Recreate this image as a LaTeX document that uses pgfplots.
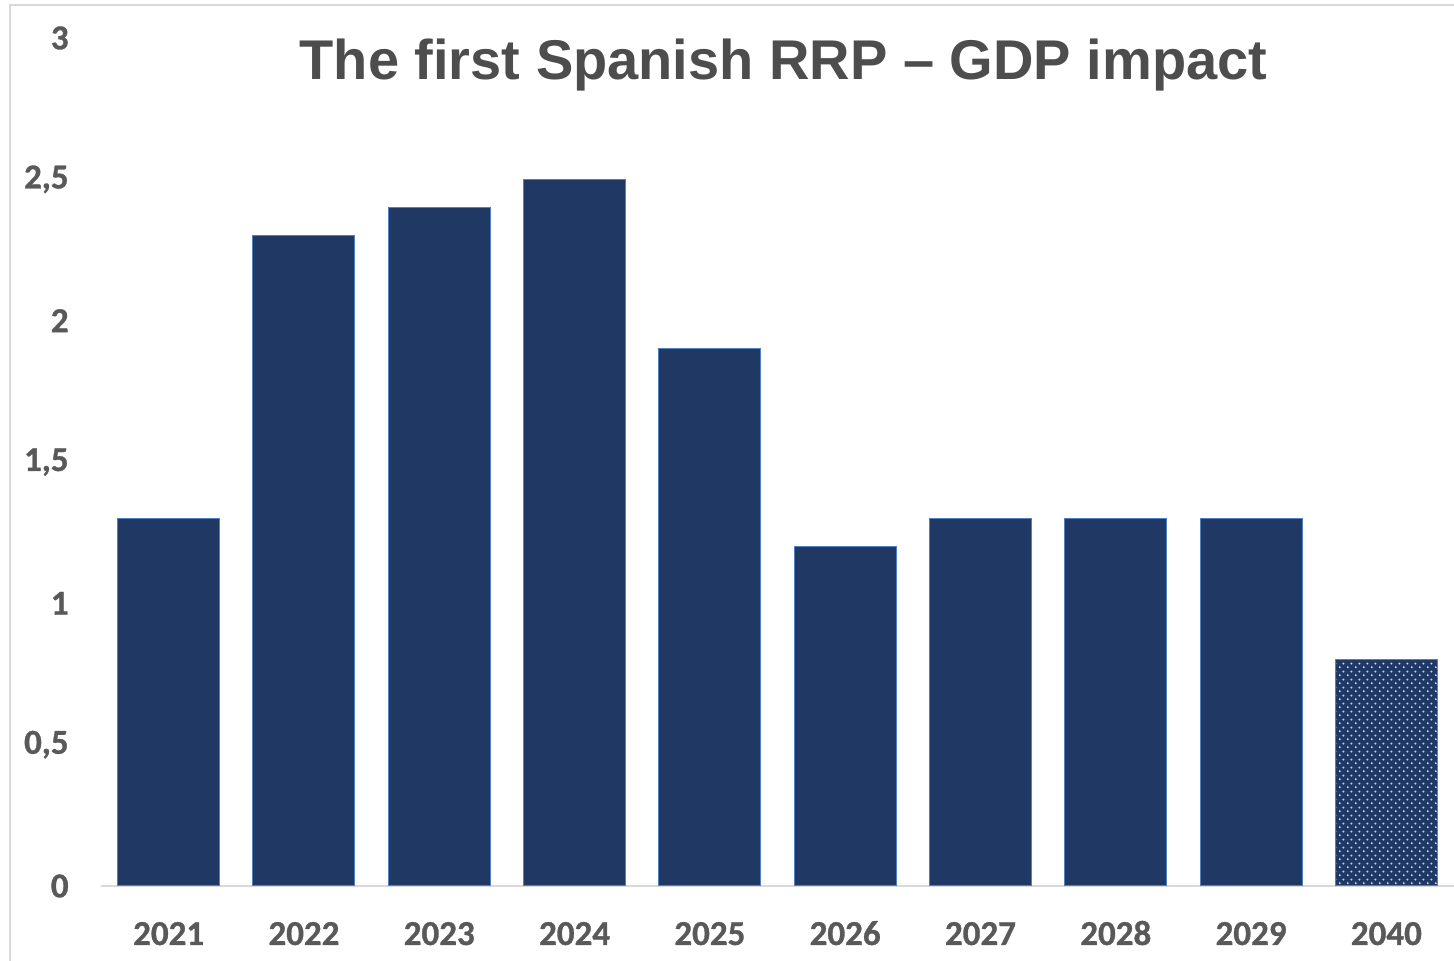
\documentclass[border=0pt]{standalone}
\usepackage{fontspec}
\setmainfont{Carlito}
\newfontfamily\tickfam{Carlito}[UprightFont=*-Bold, FakeBold=0.9]
\newfontfamily\titlefont{Liberation Sans}
\usepackage{pgfplots}
\pgfplotsset{compat=1.18}
\usetikzlibrary{patterns.meta}

\definecolor{barblue}{HTML}{203864}
\definecolor{baredge}{HTML}{4F81C4}
\definecolor{dotcol}{HTML}{D0DBEE}
\definecolor{ticktext}{HTML}{595959}
\definecolor{titletext}{HTML}{4D4D4D}
\definecolor{frame}{HTML}{D9D9D9}

% staggered dots for the 2040 bar
\pgfdeclarepattern{
  name=sdots, type=uncolored,
  bottom left={\pgfpoint{0pt}{0pt}},
  top right={\pgfpoint{3.8pt}{3.8pt}},
  tile size={\pgfpoint{3.8pt}{3.8pt}},
  code={
    \pgfpathcircle{\pgfpoint{0.95pt}{0.95pt}}{0.55pt}
    \pgfpathcircle{\pgfpoint{2.85pt}{2.85pt}}{0.55pt}
    \pgfusepath{fill}
  }
}

\newcommand{\tickfont}{\tickfam\fontsize{17.5}{20}\selectfont}

\begin{document}
\begin{tikzpicture}
  \useasboundingbox (-50.5pt,-37.5pt) rectangle (676.5pt,443pt);
  \draw[frame, line width=0.6pt] (-45.5pt,-45pt) rectangle (690pt,440.5pt);
  \begin{axis}[
    at={(0,0)}, anchor=south west,
    scale only axis,
    width=676.5pt, height=424pt,
    xmin=-0.5, xmax=9.5,
    ymin=0, ymax=3,
    ybar, bar width=51pt,
    xtick={0,...,9},
    xticklabels={2021,2022,2023,2024,2025,2026,2027,2028,2029,2040},
    ytick={0,0.5,1,1.5,2,2.5,3},
    yticklabels={0,{0,5},1,{1,5},2,{2,5},3},
    major tick length=0pt,
    axis lines*=left,
    x axis line style={draw=frame, line width=0.8pt, -},
    y axis line style={draw=none},
    xticklabel style={font=\tickfont, text=ticktext, inner sep=0pt, anchor=base, yshift=-29.5pt},
    yticklabel style={font=\tickfont, text=ticktext, inner sep=0pt, anchor=east, xshift=-16pt},
    clip=false,
  ]
    \addplot[bar shift=0pt, fill=barblue, draw=baredge, line width=0.5pt]
      coordinates {(0,1.3) (1,2.3) (2,2.4) (3,2.5) (4,1.9) (5,1.2) (6,1.3) (7,1.3) (8,1.3)};
    \addplot[bar shift=0pt, draw=baredge, line width=0.5pt,
      preaction={fill=barblue}, pattern=sdots, pattern color=dotcol]
      coordinates {(9,0.8)};
    \node[anchor=base, inner sep=0pt, text=titletext,
      font=\titlefont\fontsize{28}{32}\selectfont\bfseries]
      at ([xshift=3pt]rel axis cs:0.5,0.9505) {The first Spanish RRP – GDP impact};
  \end{axis}
\end{tikzpicture}
\end{document}
